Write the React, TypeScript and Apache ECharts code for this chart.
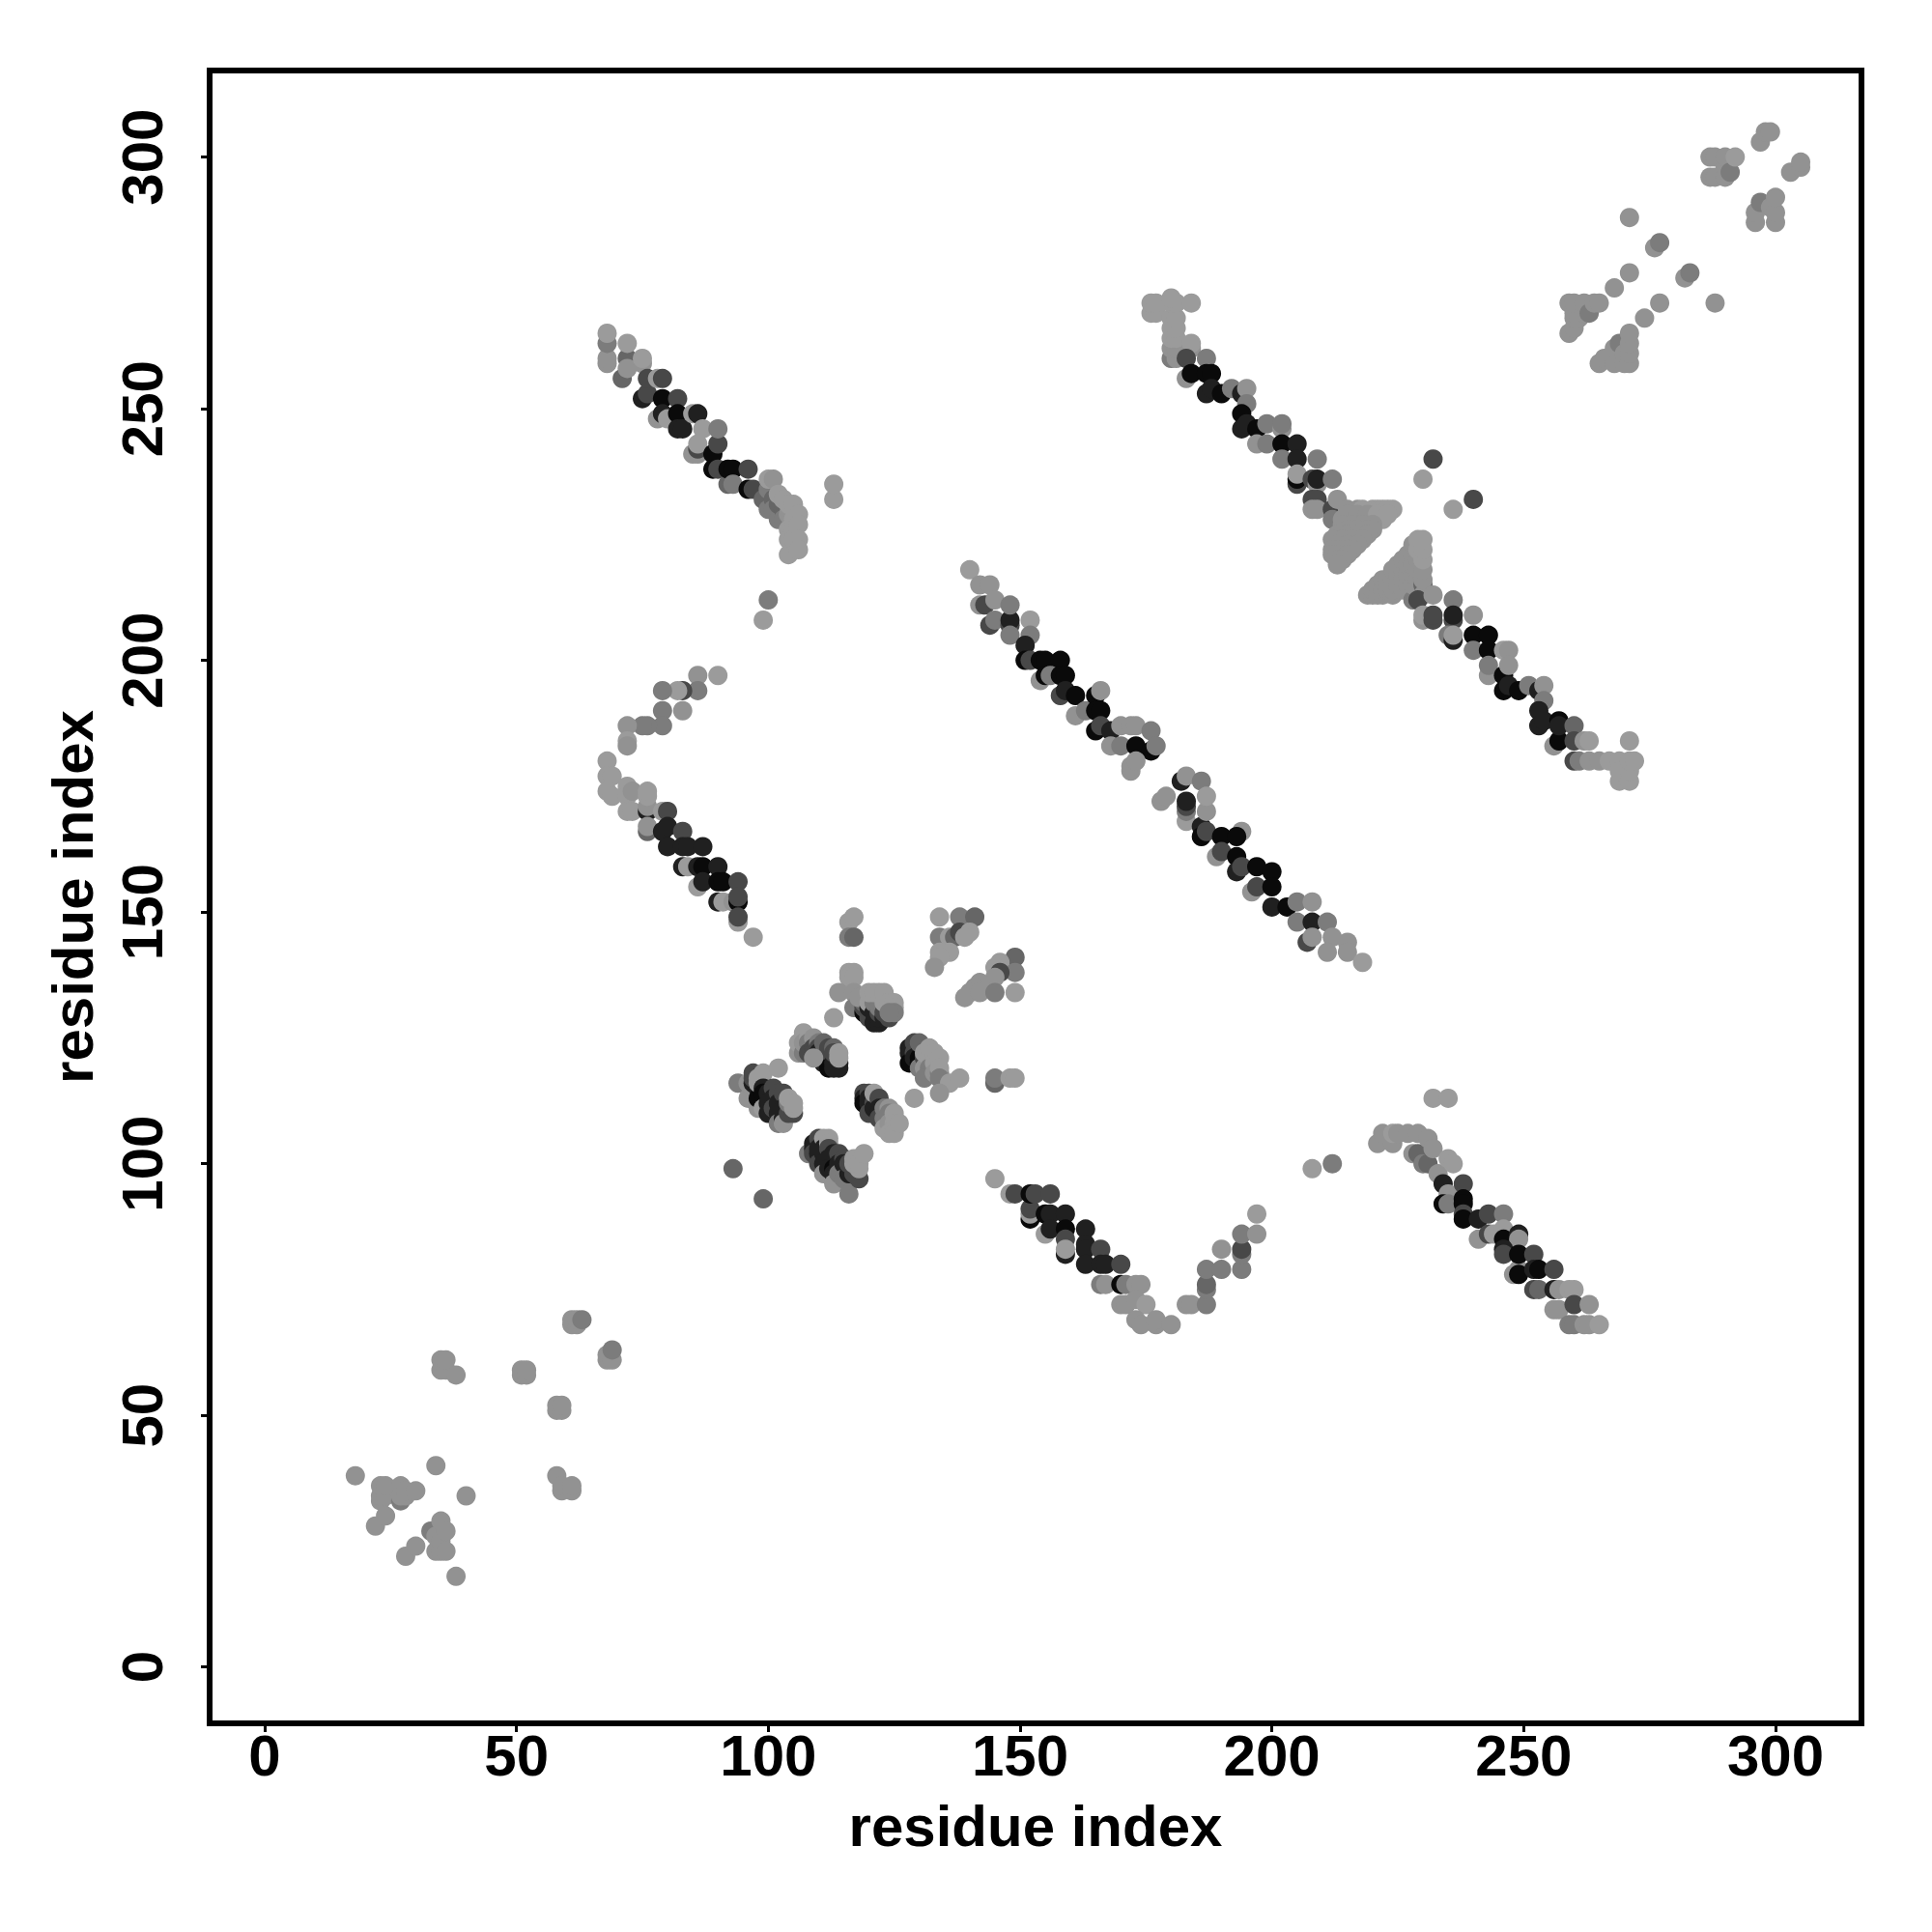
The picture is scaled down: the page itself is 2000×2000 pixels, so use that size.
import React, { useEffect, useRef } from "react";
import * as echarts from "echarts";

const L = 155, H = 146, M = 124, G = 102, D = 72, K = 32, B = 10;
type P = [number, number, number];

const tickValues = [0, 50, 100, 150, 200, 250, 300];

const strandUpperLeft: P[] = [
  [68,259,H],[68,260,H],[68,263,M],[68,265,L],[71,256,G],[72,260,G],[72,258,H],[72,263,L],[75,252,K],[75,259,H],[75,260,L],
  [76,253,D],[76,256,D],[78,256,L],[79,256,D],[78,248,H],[79,252,B],[79,249,K],[80,248,L],[82,252,D],[82,249,B],[82,246,K],[83,246,K],
  [85,249,L],[86,249,K],[87,246,L],[85,241,H],[86,241,H],[86,242,D],[86,243,L],[89,241,B],[89,238,B],[90,238,D],[90,243,D],[90,246,M],
  [92,235,G],[92,238,B],[93,238,B],[93,235,M],[96,234,B],[96,238,D],[97,234,D],[99,232,G],[100,230,M],[100,234,M],[101,233,M],[101,232,G],[101,230,M],[100,236,L],[101,236,H],[102,228,M],[102,231,G],[102,233,L],
  [103,230,G],[103,228,M],[103,232,L],[104,229,H],[104,231,L],[104,226,L],[104,224,L],[104,221,L],[105,231,L],[105,228,L],[105,226,L],[105,224,L],[106,229,L],[106,227,L],[106,224,L],[106,222,L],[113,232,L],[113,235,L],[99,208,L],[100,212,M],
];

const hairpinLeft: P[] = [
  [90,197,L],[86,197,H],[86,194,M],[83,194,D],[82,194,L],[79,194,M],[79,190,M],[83,190,H],[79,187,M],[76,187,M],[75,187,M],[72,187,H],
  [72,184,L],[72,183,H],[68,180,L],[68,177,L],[69,177,L],[68,174,L],[69,173,L],[72,175,L],[72,173,L],[73,174,H],[72,170,L],[73,170,L],
  [76,170,K],[76,171,H],[76,173,L],[76,174,L],[79,170,L],[80,170,D],[76,166,G],[76,167,H],[79,166,K],[80,167,K],[83,166,D],[80,163,K],
  [83,163,K],[84,163,K],[87,163,K],[83,159,K],[84,159,L],[86,159,K],[87,159,B],[90,159,K],[86,155,L],[87,156,K],[90,156,B],[91,156,B],
  [94,156,D],[90,152,K],[91,152,L],[93,152,H],[94,152,B],[94,153,D],[94,148,L],[94,149,D],[97,145,L],
];

const centralBlocks: P[] = [
  [116,148,L],[117,149,L],[116,145,M],[117,145,G],[134,149,L],[138,149,M],[141,149,G],[134,145,M],[136,145,L],[137,145,G],[138,146,D],[140,146,L],[139,145,L],
  [134,142,L],[135,142,L],[136,142,L],[134,141,L],[133,139,H],[149,141,G],[146,140,L],[149,138,M],[145,139,L],[146,138,D],[145,137,H],
  [142,136,H],[141,135,H],[140,134,H],[139,133,H],[142,134,H],[145,134,M],[149,134,L],[116,138,L],[117,138,L],[116,137,L],[117,137,L],
  [114,134,H],[117,134,H],[117,131,M],[118,131,M],[119,130,B],[119,131,D],[119,132,G],[118,133,H],[120,129,D],[120,131,K],[120,132,L],[121,128,K],[121,130,K],[121,132,M],[122,128,K],[122,129,K],[122,130,D],[122,131,M],[123,129,K],[123,130,D],[124,129,D],
  [120,134,L],[121,134,L],[122,134,L],[123,134,L],[123,132,L],[124,132,L],[125,132,L],[125,131,L],[125,130,M],[124,130,M],[113,129,L],
  [106,122,H],[106,124,L],[107,126,L],[107,122,M],[107,124,H],[108,125,L],[108,124,M],[108,122,D],[109,125,H],[109,123,D],[109,122,D],[110,124,M],[110,123,D],[110,122,K],[110,121,K],[111,122,K],[111,121,K],[111,120,K],[111,124,G],[112,121,K],[112,122,D],[112,123,D],[112,119,B],[113,120,K],[113,119,K],[113,123,G],[113,122,D],[114,120,K],[114,119,K],[109,121,H],[114,122,L],[114,121,L],
  [128,123,K],[128,122,K],[128,120,B],[129,124,D],[129,122,D],[129,121,K],[130,122,K],[130,121,B],[130,120,B],[130,124,G],[130,119,M],[131,121,D],[131,119,H],[131,122,L],[132,121,L],[132,119,M],[132,118,M],[132,123,L],[131,117,M],[133,122,L],[133,120,L],[133,118,H],[134,118,M],[134,121,L],[134,119,L],[134,117,M],[136,116,L],[138,117,L],[134,114,H],[129,113,L],
  [145,116,G],[145,117,M],[148,117,L],[149,117,L],
  [94,116,M],[96,113,H],[96,116,H],[97,116,K],[97,117,D],[97,118,D],[98,111,H],[98,115,K],[98,113,B],[98,116,L],[98,117,L],[99,118,L],[99,115,K],[99,114,B],[99,111,L],[100,114,K],[100,112,K],[100,110,K],[101,115,D],[101,113,K],[101,111,D],[102,119,L],[102,114,D],[102,112,K],[102,110,K],[102,108,M],[103,114,D],[103,111,K],[103,109,K],[103,108,H],[104,110,D],[104,112,M],[104,113,L],[105,110,D],[105,111,L],[105,112,L],
  [119,114,D],[119,113,K],[119,112,B],[120,114,D],[120,113,K],[120,112,K],[120,110,D],[121,112,D],[121,111,K],[121,114,L],[122,113,D],[122,111,K],[122,110,K],[122,109,D],[123,110,D],[123,109,M],[123,111,M],[123,107,L],[124,111,H],[124,110,M],[124,108,H],[124,106,L],[125,110,L],[125,108,L],[125,107,L],[125,106,L],[126,108,L],
  [108,102,M],[109,104,K],[109,103,K],[109,102,D],[110,105,D],[110,103,K],[110,102,K],[110,100,D],[111,105,L],[111,103,K],[111,102,K],[111,100,K],[111,98,H],[112,105,L],[112,104,L],[112,103,D],[112,101,K],[112,99,K],[113,102,K],[113,99,B],[113,98,K],[113,96,H],[114,102,D],[114,100,K],[114,98,M],[115,101,D],[115,100,K],[115,97,M],[116,98,K],[116,94,M],[116,100,D],[117,98,D],[117,100,L],[117,101,L],[118,97,D],[118,99,L],[118,100,L],[119,102,L],
  [93,99,G],[99,93,G],
];

const strandLowerMiddle: P[] = [
  [145,97,L],[148,94,L],[149,94,D],[152,89,B],[152,90,L],[152,91,D],[152,94,B],[153,94,D],[156,94,D],[155,90,B],[155,86,L],[156,90,K],[156,87,K],[159,90,K],
  [159,87,B],[159,85,D],[159,82,K],[159,83,L],[163,87,K],[163,84,K],[163,83,K],[163,80,K],[166,83,D],[166,80,K],[167,80,K],[170,80,D],
  [166,76,M],[167,76,H],[170,76,B],[171,76,M],[173,76,H],[174,76,H],[170,72,H],[171,72,H],[173,73,H],[175,72,L],[173,69,H],[174,68,H],[177,68,H],[177,69,H],[180,68,H],
  [183,72,H],[184,72,H],[187,72,M],[187,75,M],[187,76,G],[187,79,M],[190,79,M],[190,83,H],[194,79,M],[194,82,M],[194,83,D],[194,86,M],[197,86,H],[197,90,L],
  [208,99,L],[212,100,M],
];

const strandLowerRight: P[] = [
  [232,113,L],[235,113,L],[221,104,H],[222,106,H],[224,104,H],[224,106,L],[225,106,H],[227,106,H],[229,106,H],[228,102,H],[229,102,G],[230,100,M],[231,105,H],[231,100,G],[232,103,H],[233,98,H],[235,101,L],[236,100,L],
  [234,96,K],[235,94,H],[234,92,B],[235,92,M],[238,96,D],[238,93,B],[238,92,B],[238,90,D],[238,89,B],[241,89,K],[243,90,D],[246,90,M],
  [241,85,H],[243,86,D],[244,86,L],[246,87,L],[246,85,B],[249,86,K],[249,85,H],[246,83,K],[246,82,D],[248,78,H],[249,79,H],[249,78,B],[249,82,B],[252,82,D],
  [252,79,K],[253,79,B],[256,79,D],[252,75,D],[253,75,G],[256,75,K],[257,75,H],[259,75,L],[260,75,L],[256,71,H],[257,71,H],[260,72,D],[263,72,H],[259,68,M],[260,68,M],[262,68,H],[263,68,H],[265,68,L],
];

const strandCentre: P[] = [
  [140,218,L],[142,215,H],[144,215,H],[142,211,H],[143,211,D],[145,212,H],[144,207,D],[145,208,M],[148,207,D],[148,208,K],[148,205,M],[148,211,M],[152,208,L],[152,205,M],
  [151,203,K],[151,200,B],[152,200,D],[154,200,B],[155,200,B],[158,200,B],[154,196,H],[155,197,B],[156,197,M],[158,197,B],[159,197,B],[158,193,D],[159,194,K],[161,193,B],
  [161,189,H],[163,190,M],[165,193,B],[166,194,H],[165,190,B],[166,190,B],[165,186,B],[166,187,D],[168,186,K],[170,187,H],[172,187,H],[173,187,H],[176,186,M],
  [168,183,H],[170,183,M],[173,183,B],[176,182,B],[177,183,M],[172,178,H],[172,179,H],[173,180,H],
  [178,172,H],[179,173,H],[182,176,K],[183,177,H],[186,176,M],[183,168,L],[183,170,M],[183,171,D],[183,172,K],[186,167,K],[186,165,B],[187,166,D],[187,170,H],[187,173,L],[190,165,B],[194,166,H],[193,165,B],
  [189,161,H],[190,162,D],[193,161,B],[193,158,K],[194,159,D],[196,154,H],[197,155,D],[197,159,B],[200,158,B],[200,155,B],[200,151,K],[203,151,B],[205,152,M],[208,152,H],
  [205,148,M],[208,148,K],[211,148,M],[207,144,D],[208,145,H],[212,145,H],[211,142,H],[215,144,H],[215,142,H],[218,140,L],
];

const strandUpperRight: P[] = [
  [176,269,L],[177,269,L],[176,271,L],[177,271,L],[180,260,M],[181,260,H],[180,262,H],[181,262,H],[180,264,L],[181,264,L],[180,266,L],[181,266,L],[180,268,L],[181,268,L],[180,271,L],[181,271,L],[180,272,L],[184,271,L],[184,262,H],[184,263,L],
  [183,260,D],[187,260,M],[183,256,H],[184,257,B],[187,257,B],[188,257,B],[187,253,K],[188,254,K],[190,253,B],[192,254,M],[194,253,K],[195,254,H],[195,251,M],
  [194,249,B],[194,246,K],[195,247,K],[197,246,B],[199,247,M],[202,246,H],[202,247,M],[197,243,H],[199,243,M],[202,243,B],[205,243,K],[202,240,M],[205,240,K],[209,240,M],
  [205,235,D],[205,236,B],[205,237,L],[208,236,D],[209,235,H],[209,236,K],[212,236,M],[208,232,D],[209,232,D],[208,230,H],[209,230,H],[212,230,D],[213,232,H],[212,228,M],
  [214,228,H],[215,230,H],[216,228,H],[217,230,H],[218,228,H],[218,230,L],[220,228,L],[220,230,L],[221,230,L],[222,228,L],[222,230,L],[223,230,L],[224,230,L],
  [215,229,H],[217,229,H],[219,229,H],[221,229,L],[223,229,L],[214,227,H],[216,227,H],[218,227,H],[220,227,H],
  [215,226,H],[217,226,H],[219,226,H],[220,226,H],[213,225,H],[215,225,H],[217,225,H],[219,225,H],[212,224,H],[214,224,H],[216,224,H],[218,224,H],[213,223,H],[215,223,H],[217,223,H],[212,222,H],[214,222,H],[216,222,H],[212,221,H],[213,221,H],[215,221,H],[213,220,H],[214,220,H],[213,219,H],
  [232,240,D],[230,236,L],[240,232,D],[236,230,L],
];

const triangleLower: P[] = [
  [219,213,H],[220,213,H],[220,214,H],[221,213,H],[221,215,H],[222,213,H],[222,214,H],[222,216,H],[223,214,H],[223,216,H],[224,213,H],[224,214,H],[224,216,H],[224,218,H],[225,215,H],[225,217,H],[225,219,H],[226,214,H],[226,216,H],[226,218,H],[226,220,H],
  [227,215,H],[227,217,H],[227,219,H],[227,221,H],[228,212,M],[228,215,H],[228,217,H],[228,219,H],[228,221,H],[228,223,H],[229,216,H],[229,218,H],[229,220,H],[229,222,L],[229,224,L],[230,215,G],[230,213,H],[230,216,H],[230,218,H],[230,220,L],[230,222,L],[230,224,L],
];

const strandRightEnd: P[] = [
  [229,212,D],[232,213,H],[230,208,H],[230,209,L],[232,208,D],[232,209,D],[236,212,M],[236,208,D],[236,209,K],[240,209,H],[235,205,M],[236,204,K],[236,205,L],[240,205,B],[243,205,B],
  [240,202,M],[243,202,B],[246,202,L],[247,202,H],[243,197,H],[243,199,M],[246,197,B],[246,194,B],[247,195,K],[247,199,H],[249,194,B],[251,195,M],[253,194,K],[254,195,H],[254,192,M],
  [253,190,K],[253,187,K],[254,188,K],[256,183,H],[257,184,B],[257,188,B],[257,187,K],[260,187,G],[260,180,D],[260,184,D],[261,180,M],[262,184,H],[263,184,L],[263,180,H],[265,180,H],[267,180,L],[269,180,L],
  [269,176,L],[269,178,L],[271,176,L],[271,178,L],[271,180,L],[271,184,L],[272,180,L],
];

const lowerLeftPatch: P[] = [
  [18,38,H],[22,28,H],[23,33,H],[23,34,H],[23,36,H],[24,30,H],[24,34,H],[24,36,H],[27,33,M],[27,34,H],[27,36,H],[28,22,H],[28,34,H],[28,35,H],[30,24,H],[30,35,H],
  [33,27,M],[34,23,H],[34,26,H],[34,40,H],[35,23,H],[35,25,H],[35,29,H],[36,23,H],[36,27,H],[38,18,H],[40,34,H],
  [35,59,H],[35,61,H],[36,59,H],[36,61,H],[38,58,H],[51,58,H],[51,59,H],[52,58,H],[52,59,H],[58,51,H],[58,52,H],[59,51,H],[59,52,H],
  [58,38,H],[59,35,H],[59,36,H],[61,35,H],[61,36,H],[61,68,H],[61,69,H],[62,68,H],[62,69,H],[63,69,M],[68,61,H],[68,62,H],[69,61,H],[69,63,M],
];

const upperRightPatch: P[] = [
  [259,265,H],[259,271,H],[260,266,H],[260,268,H],[260,269,H],[260,271,H],[261,268,H],[262,269,H],[262,271,H],[263,269,M],[264,271,H],[265,271,H],
  [265,259,H],[266,260,H],[268,259,H],[268,262,H],[269,263,M],[270,259,H],[270,261,H],[271,259,H],[271,261,H],[271,263,H],[271,265,H],
  [268,274,H],[271,277,H],[271,288,H],[274,268,H],[276,282,H],[277,283,M],[277,271,H],[282,276,H],[283,277,M],[288,271,H],
  [287,296,H],[287,300,H],[288,296,H],[288,300,H],[290,296,H],[290,298,H],[290,300,H],[291,297,M],[292,300,L],[296,287,H],[296,289,H],[297,291,M],[297,303,H],[298,305,H],[299,305,H],
  [299,290,H],[300,287,H],[300,289,H],[300,292,H],[303,297,H],[305,298,H],[305,299,H],
];

const allPoints: P[] = [
  ...lowerLeftPatch, ...hairpinLeft, ...strandUpperLeft, ...centralBlocks, ...strandLowerMiddle, ...strandLowerRight,
  ...strandCentre, ...strandUpperRight, ...triangleLower, ...strandRightEnd, ...upperRightPatch,
];

const axisFont = { fontFamily: "Liberation Sans", fontWeight: "bold" as const, fontSize: 60, color: "#000" };

export default function App() {
  const ref = useRef<HTMLDivElement>(null);
  useEffect(() => {
    document.body.style.margin = "0";
    const chart = echarts.init(ref.current!, null, { renderer: "svg" });
    chart.setOption({
      animation: false,
      backgroundColor: "#fff",
      grid: { show: true, left: 217, right: 73, top: 73, bottom: 216, borderColor: "#000", borderWidth: 6, backgroundColor: "transparent" },
      xAxis: {
        type: "value", min: -10.93, max: 317.07, splitLine: { show: false }, axisLine: { show: false, onZero: false },
        axisTick: { show: true, length: 9, lineStyle: { color: "#000", width: 3 }, customValues: tickValues },
        axisLabel: { ...axisFont, margin: 3, customValues: tickValues, hideOverlap: false },
        name: "residue index", nameLocation: "middle", nameGap: 76, nameTextStyle: axisFont,
      },
      yAxis: {
        type: "value", min: -11.2, max: 317.2, splitLine: { show: false }, axisLine: { show: false, onZero: false },
        axisTick: { show: true, length: 9, lineStyle: { color: "#000", width: 3 }, customValues: tickValues },
        axisLabel: { ...axisFont, margin: 40, rotate: 90, customValues: tickValues, hideOverlap: false },
        name: "residue index", nameLocation: "middle", nameGap: 112, nameTextStyle: axisFont,
      },
      series: [{
        type: "scatter",
        symbolSize: 20,
        silent: true,
        data: allPoints,
        encode: { x: 0, y: 1 },
        itemStyle: {
          opacity: 1,
          color: (p: any) => {
            const g = p.value[2];
            return `rgb(${g},${g},${g})`;
          },
        },
      }],
    });
    return () => chart.dispose();
  }, []);
  return <div ref={ref} style={{ width: 2000, height: 2000 }} />;
}
